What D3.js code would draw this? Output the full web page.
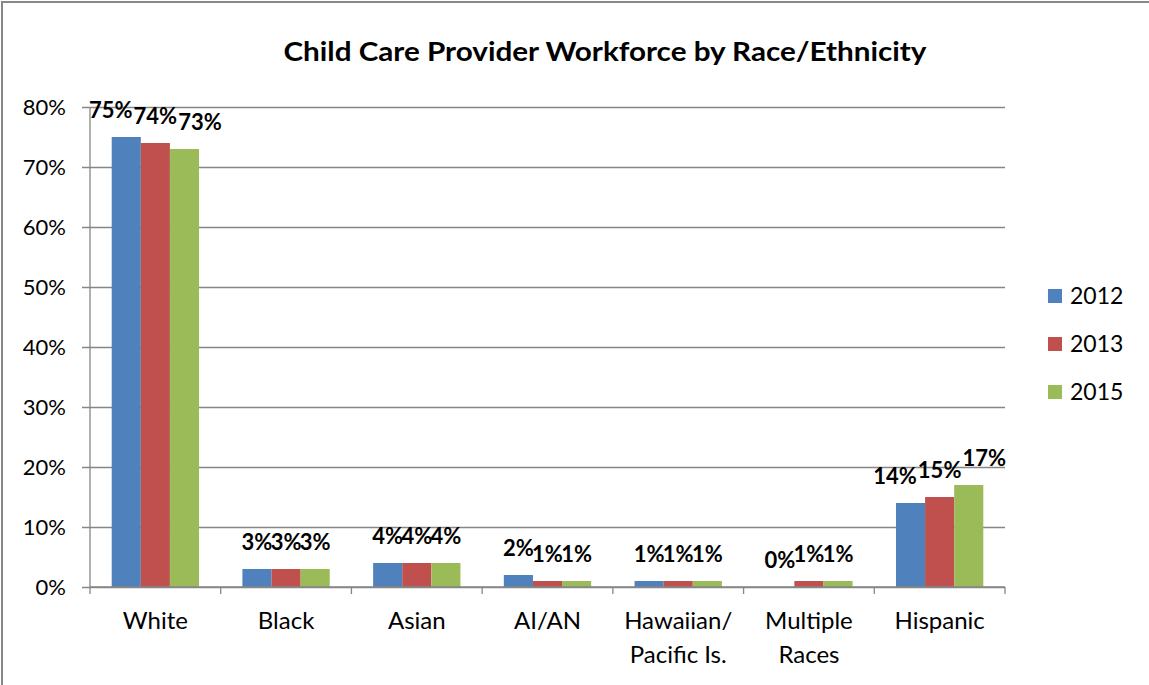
<!DOCTYPE html>
<html><head><meta charset="utf-8">
<script src="https://cdn.jsdelivr.net/npm/d3@7/dist/d3.min.js"></script>
<style>body{margin:0;background:#fff;} svg{display:block;font-family:Lato,"Open Sans",sans-serif;}</style>
</head><body>
<svg id="c" width="1149" height="685"></svg>
<script>
const categories = ["White","Black","Asian","AI/AN","Hawaiian/\nPacific Is.","Multiple\nRaces","Hispanic"];
const years = ["2012","2013","2015"];
const values2012 = [75,3,4,2,1,0,14];
const values2013 = [74,3,4,1,1,1,15];
const values2015 = [73,3,4,1,1,1,17];
const yTicks = [0,10,20,30,40,50,60,70,80];
const title = "Child Care Provider Workforce by Race/Ethnicity";
const colors = ["#4F81BD","#C0504D","#9BBB59"];

const series = [values2012, values2013, values2015];
const svg = d3.select("#c");
svg.append("rect").attr("x",2).attr("y",2).attr("width",1160).attr("height",700)
  .attr("fill","#fff").attr("stroke","#888").attr("stroke-width",2);

const L=90, R=1005, T=107, B=587;
const x = d3.scaleBand().domain(categories).range([L,R]).padding(0);
const bw = x.bandwidth();
const x1 = d3.scaleBand().domain(years).range([bw*0.166, bw*0.834]).padding(0);
const y = d3.scaleLinear().domain([0,80]).range([B,T]);

svg.append("text").attr("x",605).attr("y",61).attr("text-anchor","middle")
  .attr("font-size",27).attr("font-weight","bold").attr("fill","#000")
  .attr("textLength",643).attr("lengthAdjust","spacingAndGlyphs").text(title);

// grid
const yAxis = d3.axisLeft(y).tickValues(yTicks).tickSize(-(R-L)).tickFormat(d=>d+"%").tickPadding(24);
const gy = svg.append("g").attr("transform",`translate(${L},0)`).call(yAxis);
gy.select(".domain").remove();
gy.selectAll(".tick line").attr("stroke","#868686").attr("stroke-width",1.3).attr("x1",-8);
gy.selectAll(".tick text").attr("font-size",22).attr("fill","#000").attr("font-family","Lato");

// vertical axis line
svg.append("line").attr("x1",L).attr("x2",L).attr("y1",T).attr("y2",B).attr("stroke","#868686").attr("stroke-width",1.3);

// bars
series.forEach((vals,si)=>{
  svg.append("g").selectAll("rect").data(vals).join("rect")
    .attr("x",(d,i)=>x(categories[i])+x1(years[si]))
    .attr("width",x1.bandwidth())
    .attr("y",d=>y(d)).attr("height",d=>B-y(d))
    .attr("fill",colors[si]);
});
// labels (with simple horizontal de-overlap within each category)
const lblG = svg.append("g");
categories.forEach((c,ci)=>{
  const items = series.map((vals,si)=>{
    const t = lblG.append("text")
      .attr("y",y(vals[ci])-19)
      .attr("text-anchor","middle").attr("font-size",22).attr("font-weight","bold").attr("fill","#000")
      .text(vals[ci]+"%");
    return {t, cx:x(c)+x1(years[si])+x1.bandwidth()/2, w:t.node().getComputedTextLength()};
  });
  let overlap=false;
  for(let i=1;i<items.length;i++){
    if(items[i].cx - items[i].w/2 < items[i-1].cx + items[i-1].w/2 - 4) overlap=true;
  }
  if(overlap){
    const gap=1;
    const total=d3.sum(items,d=>d.w)+gap*(items.length-1);
    const mid=d3.mean(items,d=>d.cx);
    let cur=mid-total/2;
    items.forEach(d=>{d.cx=cur+d.w/2; cur+=d.w+gap;});
  }
  items.forEach(d=>d.t.attr("x",d.cx));
});

// x axis
svg.append("line").attr("x1",L).attr("x2",R).attr("y1",B).attr("y2",B).attr("stroke","#868686").attr("stroke-width",1.3);
const bounds = categories.map(c=>x(c)).concat([R]);
svg.append("g").selectAll("line").data(bounds).join("line")
  .attr("x1",d=>d).attr("x2",d=>d).attr("y1",B).attr("y2",B+7).attr("stroke","#868686").attr("stroke-width",1.3);
const xl = svg.append("g").selectAll("text").data(categories).join("text")
  .attr("x",d=>x(d)+bw/2).attr("y",629).attr("text-anchor","middle")
  .attr("font-size",24).attr("fill","#000");
xl.each(function(d){
  const lines=d.split("\n");
  d3.select(this).selectAll("tspan").data(lines).join("tspan")
    .attr("x",x(d)+bw/2).attr("dy",(l,i)=>i?34:0).text(l=>l);
});

// legend
const lg = svg.append("g").selectAll("g").data(years).join("g")
  .attr("transform",(d,i)=>`translate(1048,${296+i*48})`);
lg.append("rect").attr("x",0).attr("y",-7).attr("width",14).attr("height",14).attr("fill",(d,i)=>colors[i]);
lg.append("text").attr("x",22).attr("y",8).attr("font-size",23).attr("fill","#000").text(d=>d);
</script>
</body></html>
